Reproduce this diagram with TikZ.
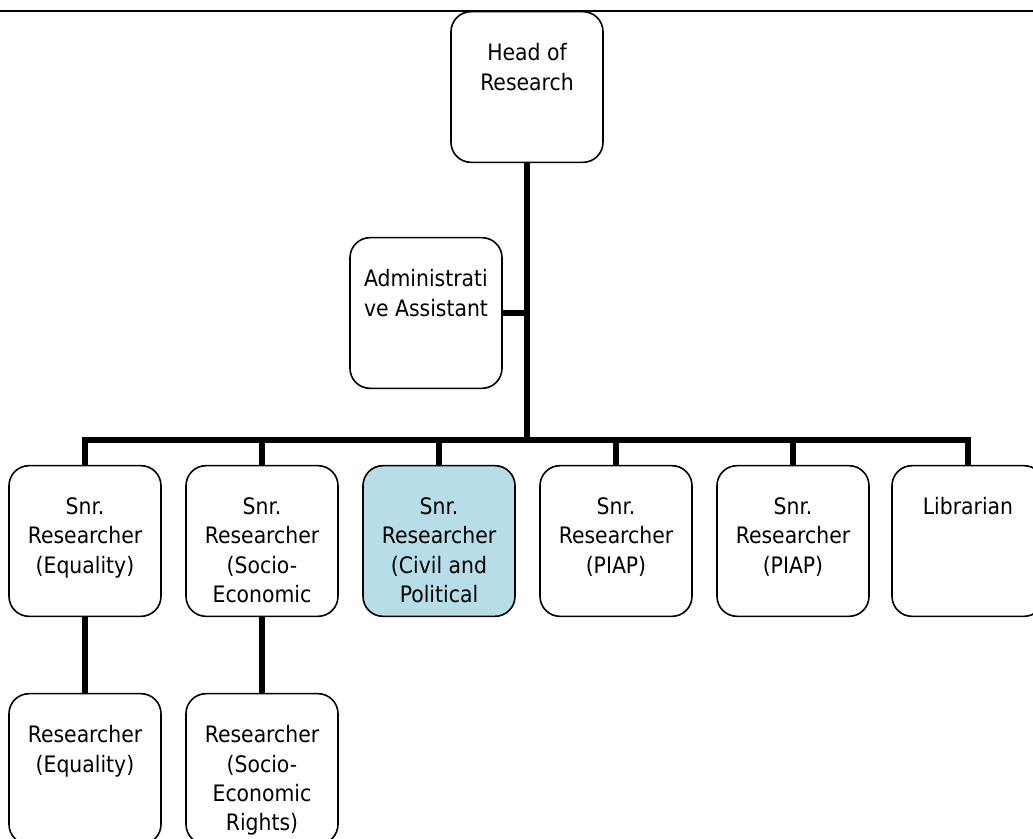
\documentclass[tikz,border=0pt]{standalone}
\usepackage{fontspec}
\setmainfont{DejaVu Sans Condensed}
\definecolor{civilblue}{HTML}{B6DDE8}
\newcommand{\orgtext}[1]{\parbox[c][113pt][t]{110pt}{\centering\vspace*{24pt}#1}}

\begin{document}
\begin{tikzpicture}[
        x=0.75pt, y=-0.75pt,
        font=\fontsize{17}{22}\selectfont,
        orgbox/.style={
            draw,
            line width=1.2pt,
            rounded corners=15pt,
            inner sep=0pt,
            minimum width=114pt,
            minimum height=113pt},
        link/.style={line width=4.5pt}]
        \clip (0,0) rectangle (1033,839);
        \draw[line width=1.5pt] (0,11) -- (1033,11);

        \node[orgbox] (head) at (527,87) {\orgtext{Head of\\Research}};
        \node[orgbox] (admin) at (426,313) {\orgtext{Administrati\\ve Assistant}};
        \coordinate (bus) at (527,440);

        \node[orgbox] (equality) at (85,541) {\orgtext{Snr.\\Researcher\\(Equality)}};
        \node[orgbox] (socio) at (262,541) {\orgtext{Snr.\\Researcher\\(Socio-\\Economic}};
        \node[orgbox, fill=civilblue] (civil) at (439,541) {\orgtext{Snr.\\Researcher\\(Civil and\\Political}};
        \node[orgbox] (piap) at (616,541) {\orgtext{Snr.\\Researcher\\(PIAP)}};
        \node[orgbox] (piapb) at (793,541) {\orgtext{Snr.\\Researcher\\(PIAP)}};
        \node[orgbox] (librarian) at (968,541) {\orgtext{Librarian}};

        \node[orgbox] (reseq) at (85,769) {\orgtext{Researcher\\(Equality)}};
        \node[orgbox] (ressocio) at (262,769) {\orgtext{Researcher\\(Socio-\\Economic\\Rights)}};

        \draw[link] (head) -- (bus);
        \draw[link] (admin) -- (admin -| bus);
        \draw[link] (equality) |- (bus) -| (librarian);
        \foreach \n in {socio, civil, piap, piapb}
            \draw[link] (\n) -- (\n |- bus);
        \draw[link] (equality) -- (reseq);
        \draw[link] (socio) -- (ressocio);
    \end{tikzpicture}
\end{document}
